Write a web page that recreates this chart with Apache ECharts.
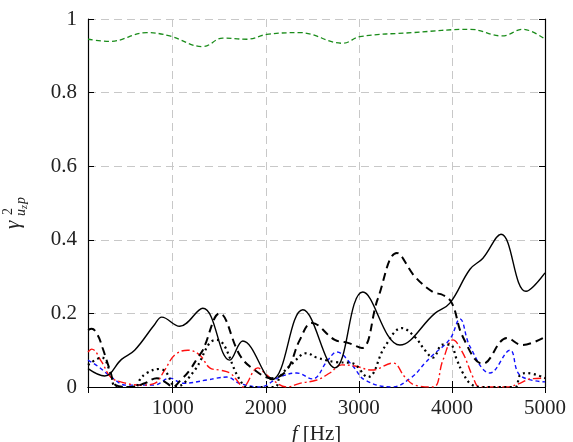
<!DOCTYPE html>
<html>
<head>
<meta charset="utf-8">
<script src="https://cdn.jsdelivr.net/npm/echarts@6/dist/echarts.min.js"></script>
<style>
html,body{margin:0;padding:0;background:#fff;}
#c{width:573px;height:442px;}
</style>
</head>
<body>
<div id="c"></div>
<script>
// ---- data ----
const xTicks = [1000, 2000, 3000, 4000, 5000];
const yTicks = [0, 0.2, 0.4, 0.6, 0.8, 1];

const greenFreq = [90, 323, 720, 968, 1323, 1538, 1796, 2011, 2366, 2828, 3011, 3581, 4194, 4538, 4763, 5000];
const greenVals = [0.945, 0.939, 0.963, 0.954, 0.925, 0.948, 0.945, 0.958, 0.963, 0.934, 0.952, 0.963, 0.972, 0.954, 0.972, 0.945];

const solidFreq = [90, 269, 450, 591, 806, 882, 1075, 1323, 1613, 1753, 2065, 2398, 2742, 3043, 3441, 3817, 3978, 4194, 4333, 4527, 4796, 5000];
const solidVals = [0.05, 0.03, 0.075, 0.10, 0.17, 0.19, 0.165, 0.214, 0.073, 0.125, 0.02, 0.21, 0.052, 0.258, 0.114, 0.2, 0.228, 0.32, 0.35, 0.415, 0.26, 0.31];

const dashFreq = [90, 130, 194, 247, 333, 387, 550, 700, 828, 940, 1000, 1090, 1183, 1269, 1323, 1505, 1720, 1860, 2065, 2226, 2366, 2495, 2742, 2882, 3032, 3204, 3409, 3602, 3796, 3903, 4000, 4118, 4333, 4592, 4753, 5000];
const dashVals = [0.155, 0.158, 0.141, 0.106, 0.04, 0.005, 0.0, 0.01, 0.024, 0.01, 0.0, 0.02, 0.046, 0.08, 0.1, 0.2, 0.087, 0.05, 0.024, 0.046, 0.128, 0.174, 0.128, 0.12, 0.106, 0.24, 0.364, 0.3, 0.258, 0.25, 0.228, 0.136, 0.063, 0.133, 0.114, 0.136];

const dotFreq = [90, 237, 333, 390, 600, 645, 720, 860, 935, 990, 1030, 1237, 1398, 1473, 1720, 1800, 2100, 2150, 2290, 2441, 2548, 2742, 2925, 3097, 3280, 3462, 3602, 3710, 3796, 3900, 3980, 4054, 4118, 4194, 4301, 4677, 4730, 4806, 5000];
const dotVals = [0.06, 0.08, 0.038, 0.0, 0.0, 0.019, 0.038, 0.049, 0.038, 0.01, 0.0, 0.046, 0.12, 0.128, 0.02, 0.0, 0.0, 0.027, 0.065, 0.092, 0.08, 0.068, 0.065, 0.027, 0.11, 0.16, 0.136, 0.1, 0.08, 0.115, 0.115, 0.073, 0.038, 0.01, 0.0, 0.0, 0.032, 0.038, 0.024];

const blueFreq = [90, 209, 355, 500, 800, 968, 1108, 1366, 1473, 1580, 1720, 1935, 2150, 2333, 2500, 2667, 2763, 2925, 3065, 3355, 3570, 3710, 3796, 3978, 4086, 4194, 4409, 4624, 4731, 5000];
const blueVals = [0.073, 0.054, 0.024, 0.005, 0.005, 0.024, 0.01, 0.019, 0.024, 0.027, 0.01, 0.0, 0.027, 0.038, 0.022, 0.073, 0.095, 0.06, 0.019, 0.0, 0.027, 0.065, 0.087, 0.13, 0.185, 0.11, 0.038, 0.1, 0.032, 0.014];

const redFreq = [90, 130, 237, 333, 441, 656, 806, 914, 1022, 1161, 1290, 1398, 1505, 1613, 1688, 1753, 1914, 1989, 2075, 2226, 2366, 2548, 2688, 2817, 2957, 3140, 3366, 3495, 3602, 3800, 3903, 4011, 4118, 4226, 4301, 4591, 4731, 4839, 5000];
const redVals = [0.095, 0.103, 0.068, 0.027, 0.014, 0.005, 0.01, 0.046, 0.087, 0.1, 0.087, 0.052, 0.046, 0.038, 0.019, 0.0, 0.052, 0.038, 0.019, 0.0, 0.01, 0.019, 0.038, 0.06, 0.057, 0.046, 0.065, 0.027, 0.005, 0.0, 0.073, 0.128, 0.092, 0.027, 0.0, 0.0, 0.01, 0.022, 0.024];

const zip = (f, v) => f.map((x, i) => [x, v[i]]);

const FONT = '"Liberation Serif", "DejaVu Serif", serif';
const chart = echarts.init(document.getElementById('c'), null, {renderer: 'canvas'});

const axisCommonX = {
  type: 'value', min: 90, max: 5000, splitNumber: 5,
  axisLine: {show: true, lineStyle: {color: '#000', width: 1.2}},
  axisTick: {show: true, inside: true, length: 6, lineStyle: {color: '#000', width: 1}},
  axisLabel: {show: false}, splitLine: {show: false}
};
const axisCommonY = {
  type: 'value', min: 0, max: 1, interval: 0.2,
  axisLine: {show: true, lineStyle: {color: '#000', width: 1.2}},
  axisTick: {show: true, inside: true, length: 6, lineStyle: {color: '#000', width: 1}},
  axisLabel: {show: false}, splitLine: {show: false}
};

function line(data, color, dash, width) {
  return {
    type: 'line', data: data, xAxisIndex: 0, yAxisIndex: 0,
    smooth: 0.4, symbol: 'none', clip: true,
    lineStyle: {color: color, width: width, type: dash},
    emphasis: {disabled: true}, silent: true, animation: false
  };
}

chart.setOption({
  animation: false,
  backgroundColor: '#fff',
  grid: {left: 88, right: 28, top: 19, bottom: 55, containLabel: false, outerBoundsMode: 'none'},
  xAxis: [
    Object.assign({}, axisCommonX, {
      position: 'bottom',
      axisLabel: {show: true, showMinLabel: false, margin: 11, color: '#222',
        fontFamily: FONT, fontSize: 21,
        formatter: v => (xTicks.indexOf(v) >= 0 ? String(v) : '')},
      splitLine: {show: true, lineStyle: {color: '#c8c8c8', width: 1, type: [8, 5]}},
      name: '{i|f} [Hz]', nameLocation: 'middle', nameGap: 31,
      nameTextStyle: {fontFamily: FONT, fontSize: 21, color: '#222',
        rich: {i: {fontFamily: FONT, fontStyle: 'italic', fontSize: 21, color: '#222'}}}
    }),
    Object.assign({}, axisCommonX, {position: 'top'})
  ],
  yAxis: [
    Object.assign({}, axisCommonY, {
      position: 'left',
      axisLabel: {show: true, margin: 11, color: '#222', fontFamily: FONT, fontSize: 21,
        formatter: v => {
          const t = yTicks.find(y => Math.abs(y - v) < 1e-9);
          return t === undefined ? '' : String(t);
        }},
      splitLine: {show: true, lineStyle: {color: '#c8c8c8', width: 1, type: [8, 5]}}
    }),
    Object.assign({}, axisCommonY, {position: 'right'})
  ],
  graphic: [{
    type: 'group', x: 13, y: 229, rotation: Math.PI / 2, silent: true,
    children: [
      {type: 'text', x: 0, y: 0, style: {text: 'γ', font: 'italic 21px ' + FONT, fill: '#222', textVerticalAlign: 'middle', textAlign: 'left'}},
      {type: 'text', x: 14, y: -5, style: {text: '2', font: '14px ' + FONT, fill: '#222', textVerticalAlign: 'middle', textAlign: 'left'}},
      {type: 'text', x: 13, y: 8, style: {text: 'u', font: 'italic 14px ' + FONT, fill: '#222', textVerticalAlign: 'middle', textAlign: 'left'}},
      {type: 'text', x: 20, y: 11, style: {text: 'z', font: 'italic 10px ' + FONT, fill: '#222', textVerticalAlign: 'middle', textAlign: 'left'}},
      {type: 'text', x: 25, y: 8, style: {text: 'p', font: 'italic 14px ' + FONT, fill: '#222', textVerticalAlign: 'middle', textAlign: 'left'}}
    ]
  }],
  series: [
    line(zip(greenFreq, greenVals), '#1a8c1a', [5, 3], 1.3),
    line(zip(blueFreq, blueVals), '#1010ff', [4, 3], 1.4),
    line(zip(redFreq, redVals), '#ff1010', [8, 3, 2, 3], 1.4),
    line(zip(dotFreq, dotVals), '#000', [2, 3.5], 2.2),
    line(zip(dashFreq, dashVals), '#000', [8, 5], 2),
    line(zip(solidFreq, solidVals), '#000', 'solid', 1.4)
  ]
});
</script>
</body>
</html>
